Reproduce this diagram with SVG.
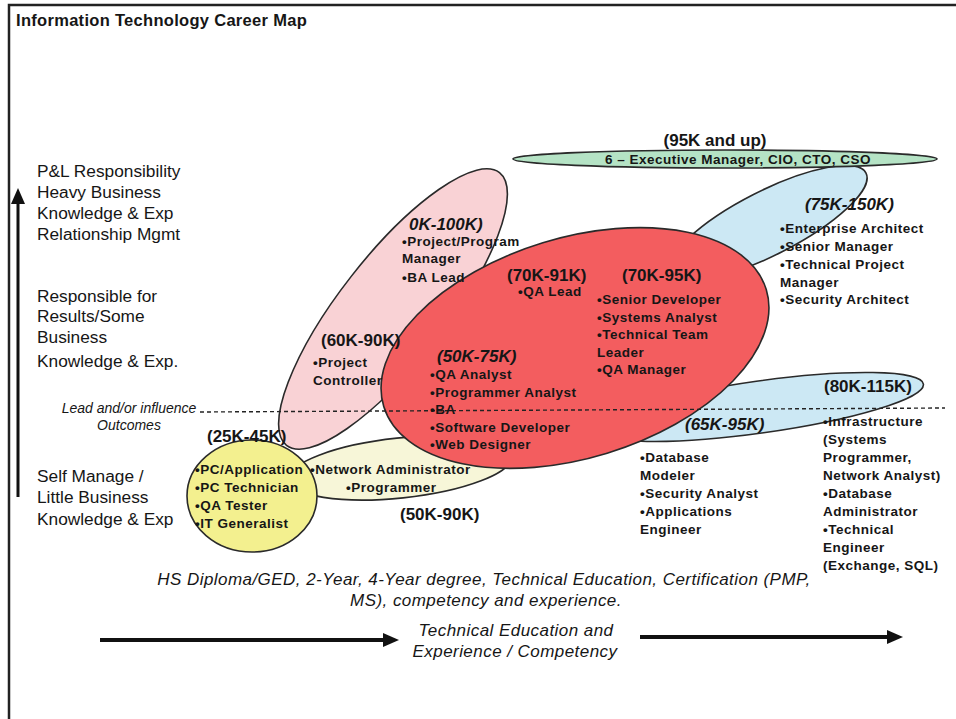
<svg xmlns="http://www.w3.org/2000/svg" width="956" height="719" viewBox="0 0 956 719">
<style>
text{font-family:"Liberation Sans",Arial,sans-serif;fill:#161616}
.t{font-weight:bold;font-size:13.5px;letter-spacing:.5px}
.s{font-weight:bold;font-size:17px}
.si{font-weight:bold;font-style:italic;font-size:17px}
.lab{font-size:17.3px}
.it{font-style:italic;font-size:17px;letter-spacing:.45px}
.e{stroke:#2a2a2a;stroke-width:1.6}
</style>
<defs>
<marker id="ah" markerUnits="userSpaceOnUse" markerWidth="16" markerHeight="14" refX="2" refY="7" orient="auto">
<path d="M0,0 L16,7 L0,14 Z" fill="#111"/>
</marker>
</defs>
<rect width="956" height="719" fill="#fff"/>
<polyline points="9,719 9,5 956,5" fill="none" stroke="#222" stroke-width="2.5"/>
<text x="16" y="26" style="font-weight:bold;font-size:16.5px;letter-spacing:.3px">Information Technology Career Map</text>

<g id="axis-labels">
<text class="lab" x="37" y="177">P&amp;L Responsibility</text>
<text class="lab" x="37" y="198">Heavy Business</text>
<text class="lab" x="37" y="219">Knowledge &amp; Exp</text>
<text class="lab" x="37" y="240">Relationship Mgmt</text>
<text class="lab" x="37" y="302">Responsible for</text>
<text class="lab" x="37" y="322">Results/Some</text>
<text class="lab" x="37" y="343">Business</text>
<text class="lab" x="37" y="367">Knowledge &amp; Exp.</text>
<text class="lab" x="37" y="482">Self Manage /</text>
<text class="lab" x="37" y="503">Little Business</text>
<text class="lab" x="37" y="525">Knowledge &amp; Exp</text>
<text x="129" y="413" text-anchor="middle" style="font-style:italic;font-size:14px">Lead and/or influence</text>
<text x="129" y="430" text-anchor="middle" style="font-style:italic;font-size:14px">Outcomes</text>
</g>

<g id="pale-yellow">
<ellipse class="e" cx="400" cy="468" rx="112" ry="30" transform="rotate(-6 400 468)" fill="#f7f6d8"/>
</g>
<g id="pink">
<ellipse class="e" cx="393" cy="309" rx="173" ry="53" transform="rotate(-52 393 309)" fill="#f9d2d5"/>
</g>
<g id="blue-upper">
<ellipse class="e" cx="768" cy="223" rx="110" ry="32" transform="rotate(-27 768 223)" fill="#cce8f4"/>
</g>
<g id="blue-lower">
<ellipse class="e" cx="760" cy="407" rx="165" ry="26" transform="rotate(-8 760 407)" fill="#cce8f4"/>
</g>
<g id="red">
<ellipse class="e" cx="575" cy="348" rx="200" ry="110" transform="rotate(-17 575 348)" fill="#f35d5f"/>
</g>
<g id="green">
<ellipse class="e" cx="725" cy="159" rx="212" ry="9" fill="#b5e3c5"/>
</g>
<g id="yellow">
<ellipse class="e" cx="252" cy="496" rx="65" ry="56" fill="#f3f08f"/>
</g>

<g id="connectors">
<line x1="18" y1="497" x2="18" y2="202" stroke="#111" stroke-width="3" marker-end="url(#ah)"/>
<line x1="100" y1="640" x2="385" y2="640" stroke="#111" stroke-width="4" marker-end="url(#ah)"/>
<line x1="640" y1="637" x2="889" y2="637" stroke="#111" stroke-width="4" marker-end="url(#ah)"/>
<line x1="200" y1="412" x2="945" y2="408" stroke="#222" stroke-width="1.4" stroke-dasharray="4 3"/>
</g>

<g id="exec-text">
<text class="s" x="715" y="146" text-anchor="middle">(95K and up)</text>
<text x="738" y="164" text-anchor="middle" style="font-weight:bold;font-size:13.5px;letter-spacing:.5px">6 – Executive Manager, CIO, CTO, CSO</text>
</g>
<g id="pink-text">
<text class="si" x="409" y="230">0K-100K)</text>
<text class="t" x="402" y="246">•Project/Program</text>
<text class="t" x="402" y="263">Manager</text>
<text class="t" x="402" y="282">•BA Lead</text>
<text class="s" x="321" y="346">(60K-90K)</text>
<text class="t" x="313" y="367">•Project</text>
<text class="t" x="313" y="385">Controller</text>
</g>
<g id="red-text">
<text class="s" x="507" y="281">(70K-91K)</text>
<text class="t" x="518" y="296">•QA Lead</text>
<text class="s" x="622" y="281">(70K-95K)</text>
<text class="t" x="597" y="304">•Senior Developer</text>
<text class="t" x="597" y="321.5">•Systems Analyst</text>
<text class="t" x="597" y="339">•Technical Team</text>
<text class="t" x="597" y="356.5">Leader</text>
<text class="t" x="597" y="374">•QA Manager</text>
<text class="si" x="437" y="362">(50K-75K)</text>
<text class="t" x="430" y="379">•QA Analyst</text>
<text class="t" x="430" y="397">•Programmer Analyst</text>
<text class="t" x="430" y="414">•BA</text>
<text class="t" x="430" y="432">•Software Developer</text>
<text class="t" x="430" y="449">•Web Designer</text>
</g>
<g id="blue-upper-text">
<text class="si" x="805" y="210">(75K-150K)</text>
<text class="t" x="780" y="233">•Enterprise Architect</text>
<text class="t" x="780" y="251">•Senior Manager</text>
<text class="t" x="780" y="269">•Technical Project</text>
<text class="t" x="780" y="287">Manager</text>
<text class="t" x="780" y="304">•Security Architect</text>
</g>
<g id="blue-lower-text">
<text class="s" x="824" y="392">(80K-115K)</text>
<text class="si" x="685" y="430">(65K-95K)</text>
<text class="t" x="640" y="462">•Database</text>
<text class="t" x="640" y="480">Modeler</text>
<text class="t" x="640" y="498">•Security Analyst</text>
<text class="t" x="640" y="516">•Applications</text>
<text class="t" x="640" y="534">Engineer</text>
<text class="t" x="823" y="426">•Infrastructure</text>
<text class="t" x="823" y="444">(Systems</text>
<text class="t" x="823" y="462">Programmer,</text>
<text class="t" x="823" y="480">Network Analyst)</text>
<text class="t" x="823" y="498">•Database</text>
<text class="t" x="823" y="516">Administrator</text>
<text class="t" x="823" y="534">•Technical</text>
<text class="t" x="823" y="552">Engineer</text>
<text class="t" x="823" y="570">(Exchange, SQL)</text>
</g>
<g id="yellow-text">
<text class="s" x="207" y="442">(25K-45K)</text>
<text class="t" x="195" y="474">•PC/Application</text>
<text class="t" x="195" y="492">•PC Technician</text>
<text class="t" x="195" y="510">•QA Tester</text>
<text class="t" x="195" y="528">•IT Generalist</text>
<text class="t" x="310" y="474">•Network Administrator</text>
<text class="t" x="346" y="492">•Programmer</text>
<text class="s" x="400" y="520">(50K-90K)</text>
</g>
<g id="bottom-text">
<text class="it" x="484" y="585" text-anchor="middle">HS Diploma/GED, 2-Year, 4-Year  degree, Technical Education, Certification (PMP,</text>
<text class="it" x="486" y="606" text-anchor="middle">MS), competency and experience.</text>
<text class="it" x="516" y="636" text-anchor="middle">Technical Education and</text>
<text class="it" x="515" y="657" text-anchor="middle">Experience / Competency</text>
</g>
</svg>
